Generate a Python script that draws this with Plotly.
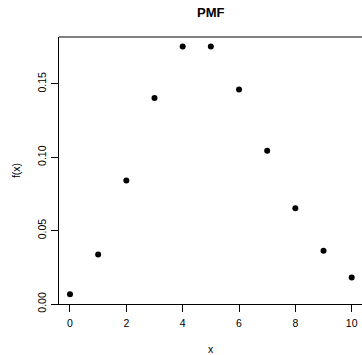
import plotly.graph_objects as go

x_vals = [0, 1, 2, 3, 4, 5, 6, 7, 8, 9, 10]
pmf_vals = [0.0067, 0.0337, 0.0842, 0.1404, 0.1755, 0.1755, 0.1462, 0.1044, 0.0653, 0.0363, 0.0181]
x_ticks = [0, 2, 4, 6, 8, 10]
y_ticks = [0.00, 0.05, 0.10, 0.15]
y_tick_labels = ["0.00", "0.05", "0.10", "0.15"]

FONT = "Liberation Sans, Arial, Helvetica, sans-serif"

W, H = 362, 355

fig = go.Figure()
fig.add_trace(go.Scatter(
    x=x_vals, y=pmf_vals, mode="markers",
    marker=dict(color="black", size=6),
    cliponaxis=False, hoverinfo="skip"
))

fig.update_layout(
    width=W, height=H,
    margin=dict(l=59, r=0, t=37, b=51, pad=0, autoexpand=False),
    paper_bgcolor="white", plot_bgcolor="white",
    showlegend=False,
    hovermode=False,
    font=dict(family=FONT, size=10.5, color="black"),
    title=dict(text="<b>PMF</b>", x=210.7 / W, xanchor="center", y=1 - 12 / H, yanchor="middle",
               font=dict(family=FONT, size=13, color="black"), automargin=False),
    xaxis=dict(
        range=[-0.39, 10.366], tickvals=x_ticks, ticktext=[str(v) for v in x_ticks],
        showgrid=False, zeroline=False, showline=True, linecolor="black", linewidth=1,
        ticks="outside", ticklen=7, tickcolor="black", tickwidth=1, automargin=False,
        ticklabelstandoff=2,
        title=dict(text="x", standoff=20, font=dict(size=10.5)),
    ),
    yaxis=dict(
        range=[0, 0.182], tickvals=y_ticks, ticktext=y_tick_labels, tickangle=-90,
        showgrid=False, zeroline=False, showline=True, linecolor="black", linewidth=1,
        ticks="outside", ticklen=7, tickcolor="black", tickwidth=1, automargin=False,
        ticklabelstandoff=1,
        title=dict(text="f(x)", standoff=13, font=dict(size=10.5)),
    ),
    shapes=[dict(type="line", xref="paper", yref="paper", x0=0, x1=1, y0=1, y1=1,
                 line=dict(color="black", width=1))],
)

# remove the default 8px page margin so the figure fills the window exactly
fig.write_html(
    "out.html",
    config={"displayModeBar": False, "staticPlot": True},
    post_script="document.body.style.margin='0px';document.body.style.overflow='hidden';",
)
